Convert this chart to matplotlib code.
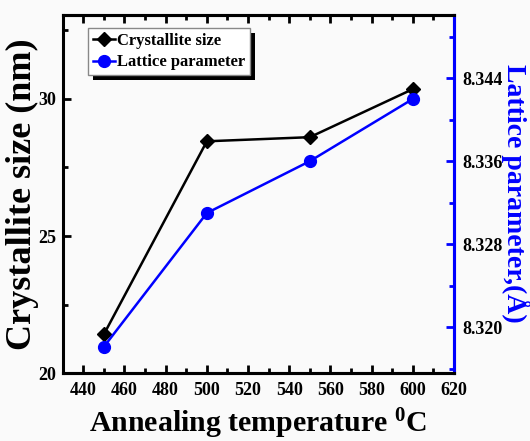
import matplotlib
matplotlib.use("Agg")
import matplotlib.pyplot as plt
from matplotlib.patches import Rectangle

plt.rcParams['font.family'] = ['Liberation Serif', 'DejaVu Serif']
plt.rcParams['font.weight'] = 'bold'
plt.rcParams['mathtext.fontset'] = 'custom'
plt.rcParams['mathtext.rm'] = 'Liberation Serif:bold'
plt.rcParams['mathtext.it'] = 'Liberation Serif:bold'
plt.rcParams['mathtext.bf'] = 'Liberation Serif:bold'

temperature = [450, 500, 550, 600]
crystallite_size = [21.42, 28.45, 28.6, 30.35]
lattice_parameter = [8.3181, 8.3310, 8.3360, 8.3420]

x_ticks = [440, 460, 480, 500, 520, 540, 560, 580, 600, 620]
left_ticks = [20, 25, 30]
right_ticks = [8.320, 8.328, 8.336, 8.344]
right_tick_labels = ['8.320', '8.328', '8.336', '8.344']

bg = '#fafafa'
fig = plt.figure(figsize=(5.30, 4.41), dpi=100, facecolor=bg)
ax = fig.add_axes([0.1183, 0.1535, 0.7383, 0.8125])
ax.set_facecolor(bg)
ax2 = ax.twinx()

l1, = ax.plot(temperature, crystallite_size, color='black', lw=1.8,
              marker='D', markersize=7.5, label='Crystallite size')
l2, = ax2.plot(temperature, lattice_parameter, color='#0000ff', lw=1.8,
               marker='o', markersize=8.5, label='Lattice parameter')

ax.set_xlim(430, 620)
ax.set_ylim(20, 33.05)
ax2.set_ylim(8.31554, 8.3501)

ax.set_xticks(x_ticks)
ax.set_xticks([x + 10 for x in x_ticks[:-1]] + [430], minor=True)
ax.set_yticks(left_ticks)
ax.set_yticks([22.5, 27.5, 32.5], minor=True)
ax2.set_yticks(right_ticks)
ax2.set_yticklabels(right_tick_labels)
ax2.set_yticks([8.316, 8.324, 8.332, 8.340, 8.348], minor=True)

for a in (ax, ax2):
    for s in a.spines.values():
        s.set_linewidth(2.2)
ax2.spines['right'].set_color('#0000ff')
ax2.spines['left'].set_visible(False)

ax.tick_params(axis='both', which='major', direction='in', length=6, width=2,
               labelsize=13, top=True, pad=6)
ax.tick_params(axis='y', which='major', pad=5)
ax.tick_params(axis='both', which='minor', direction='in', length=3.5, width=2,
               top=True)
ax.tick_params(axis='y', right=False, which='both')
ax2.tick_params(axis='y', which='major', direction='in', length=6, width=2,
                color='#0000ff', labelsize=13, pad=6)
ax2.tick_params(axis='y', which='minor', direction='in', length=3.5, width=2,
                color='#0000ff')

for lab in ax.get_xticklabels() + ax.get_yticklabels() + ax2.get_yticklabels():
    lab.set_fontweight('bold')

ax.set_ylabel('Crystallite size (nm)', fontsize=26, fontweight='bold', labelpad=-1)
ax.set_xlabel('Annealing temperature $^{0}$C', fontsize=21.5, fontweight='bold', labelpad=6)
ax2.set_ylabel('Lattice parameter,(Å)', fontsize=20, fontweight='bold',
               color='#0000ff', rotation=-90)
ax2.yaxis.label.set_horizontalalignment('center')
ax2.yaxis.label.set_verticalalignment('center')
ax2.yaxis.label.set_rotation_mode('default')
ax2.yaxis.set_label_coords(1.157, 0.503)

leg = ax.legend(handles=[l1, l2], loc='upper left', bbox_to_anchor=(0.065, 0.965),
                fontsize=12, frameon=True, fancybox=False, shadow=False,
                framealpha=1.0,
                handlelength=1.3, handletextpad=0.15, borderpad=0.3,
                labelspacing=0.35, borderaxespad=0)
leg.get_frame().set_edgecolor('#888888')
leg.get_frame().set_linewidth(1.0)
leg.get_frame().set_facecolor('white')
leg.set_zorder(10)
for t in leg.get_texts():
    t.set_fontweight('bold')

fig.canvas.draw()
bb = leg.get_window_extent()
shadow = Rectangle((bb.x0 + 5, bb.y0 - 5), bb.width, bb.height,
                   transform=None, facecolor='black', edgecolor='none', zorder=9)
ax.add_artist(shadow)

fig.savefig('out.png', dpi=100, facecolor=bg)
